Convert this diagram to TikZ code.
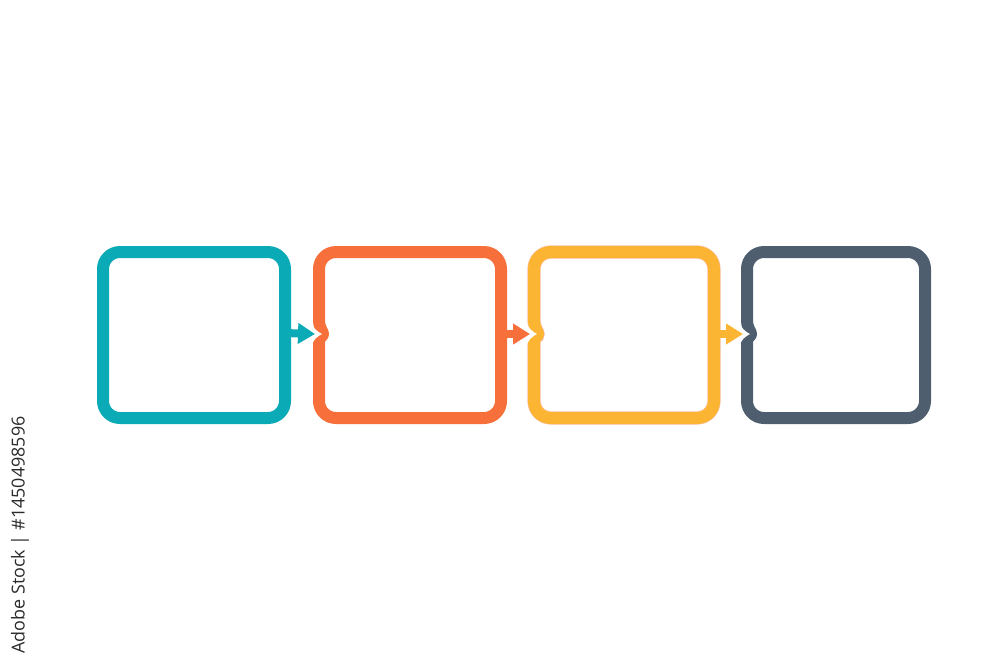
\documentclass[tikz,border=0pt]{standalone}
\usepackage{fontspec}
\setsansfont{Open Sans}
\usetikzlibrary{arrows.meta}
\definecolor{teal}{HTML}{0AAAB6}
\definecolor{coral}{HTML}{F7703B}
\definecolor{gold}{HTML}{FCB533}
\definecolor{slate}{HTML}{4E5E6E}
\definecolor{stamp}{HTML}{2B2B2B}

\begin{document}
\begin{tikzpicture}[
    x=0.2mm, y=-0.2mm,
    frame/.style={
        line width=2.4mm,
        line join=round,
    },
    notch/.style={
        fill=white,
    },
    flow/.style={
        line width=1.6mm,
        -{Triangle[length=3.4mm, width=4mm]},
    },
    stampnote/.style={
        font=\sffamily\fontsize{10.2}{12}\selectfont,
        text=stamp,
        rotate=90,
        inner sep=0pt,
    },
]
\useasboundingbox (0,0) rectangle (1000,667);

% first box, plain sides
\draw[frame, teal] (194,252) [rounded corners=3.4mm] -- (285,252) -- (285,418)
    -- (103,418) -- (103,252) -- cycle;
\coordinate (b1e) at (285,333);

% second box, bump on the left
\draw[frame, coral] (410,252) [rounded corners=3.4mm] -- (501,252) -- (501,418)
    -- (319,418) -- (319,347) [sharp corners]
    .. controls (319,340) and (323,337) .. (323,334)
    .. controls (323,331) and (319,328) .. (319,321)
    [rounded corners=3.4mm] -- (319,252) -- cycle;
\fill[notch] (311,320) .. controls (312,328) and (318,332) .. (322,334)
    .. controls (318,336) and (312,340) .. (311,348) -- cycle;
\coordinate (b2w) at (315,334);
\coordinate (b2e) at (501,334);

% third box
\draw[frame, gold, preaction={draw=coral!45, line width=2.65mm}]
    (624,252) [rounded corners=3.4mm] -- (714,252) -- (714,418)
    -- (534,418) -- (534,347) [sharp corners]
    .. controls (534,340) and (538,337) .. (538,334)
    .. controls (538,331) and (534,328) .. (534,321)
    [rounded corners=3.4mm] -- (534,252) -- cycle;
\fill[notch] (526,320) .. controls (527,328) and (533,332) .. (537,334)
    .. controls (533,336) and (527,340) .. (526,348) -- cycle;
\coordinate (b3w) at (530,334);
\coordinate (b3e) at (714,334);

% fourth box
\draw[frame, slate] (836,252) [rounded corners=3.4mm] -- (925,252) -- (925,418)
    -- (747,418) -- (747,347) [sharp corners]
    .. controls (747,340) and (751,337) .. (751,334)
    .. controls (751,331) and (747,328) .. (747,321)
    [rounded corners=3.4mm] -- (747,252) -- cycle;
\fill[notch] (739,320) .. controls (740,328) and (746,332) .. (750,334)
    .. controls (746,336) and (740,340) .. (739,348) -- cycle;
\coordinate (b4w) at (743,334);

% arrows between the boxes
\draw[flow, teal] (b1e) -- (b2w);
\draw[flow, coral] (b2e) -- (b3w);
\draw[flow, gold] (b3e) -- (b4w);

\node[stampnote] (stamp) at (20,535) {Adobe Stock | \#1450498596};

\end{tikzpicture}
\end{document}
